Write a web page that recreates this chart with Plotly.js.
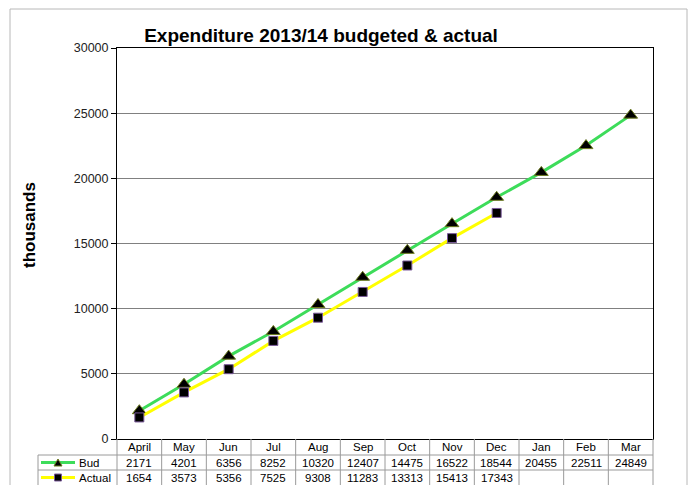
<!DOCTYPE html>
<html><head><meta charset="utf-8">
<script src="https://cdn.plot.ly/plotly-3.0.1.min.js"></script>
<style>body{margin:0;background:#fff}#c{width:693px;height:485px}</style>
</head><body><div id="c"></div>
<script>
const months = ["April","May","Jun","Jul","Aug","Sep","Oct","Nov","Dec","Jan","Feb","Mar"];
const budget = [2171,4201,6356,8252,10320,12407,14475,16522,18544,20455,22511,24849];
const actual = [1654,3573,5356,7525,9308,11283,13313,15413,17343];
const seriesNames = ["Bud","Actual"];
const yTicks = [0,5000,10000,15000,20000,25000,30000];

const W=693,H=485,L=117,R=653,T=48,B=439;
const pw=R-L, ph=B-T;
const px = x => (x-L)/pw;
const py = y => (B-y)/ph;

const traces = [
  {x: months, y: budget, name: seriesNames[0], mode:'lines+markers', cliponaxis:false,
   line:{color:'#3ddc5a', width:3},
   marker:{symbol:'triangle-up', size:12, color:'#000', line:{color:'#6b7a1e', width:1}}},
  {x: months.slice(0, actual.length), y: actual, name: seriesNames[1], mode:'lines+markers', cliponaxis:false,
   line:{color:'#ffff00', width:3},
   marker:{symbol:'square', size:9, color:'#000', line:{color:'#7a5a9a', width:1}}}
];

const shapes = [];
const annotations = [];
const gray = '#9a9a9a';
const sans = 'Liberation Sans, Arial, sans-serif';
// outer frame
shapes.push({type:'rect', xref:'paper', yref:'paper', x0:px(10), x1:px(687), y0:py(495), y1:py(9), line:{color:'#b8b8b8', width:1}});
const colW = pw / months.length;
// horizontal table lines
[455,470].forEach(yy=>shapes.push({type:'line', xref:'paper', yref:'paper', x0:px(38), x1:px(R), y0:py(yy), y1:py(yy), line:{color:gray,width:1}}));
// vertical table lines
for (let i=0;i<=months.length;i++){
  const xx = L + i*colW;
  shapes.push({type:'line', xref:'paper', yref:'paper', x0:px(xx), x1:px(xx), y0:py(439), y1:py(486), line:{color:gray,width:1}});
}
shapes.push({type:'line', xref:'paper', yref:'paper', x0:px(38), x1:px(38), y0:py(455), y1:py(486), line:{color:gray,width:1}});

const txtFont = {family:sans, size:11.5, color:'#000'};
months.forEach((m,i)=>{
  const cx = L + (i+0.5)*colW;
  annotations.push({xref:'paper', yref:'paper', x:px(cx), y:py(447), text:m, showarrow:false, font:txtFont, xanchor:'center', yanchor:'middle'});
  annotations.push({xref:'paper', yref:'paper', x:px(cx), y:py(462.5), text:String(budget[i]), showarrow:false, font:txtFont, xanchor:'center', yanchor:'middle'});
  if (i < actual.length)
    annotations.push({xref:'paper', yref:'paper', x:px(cx), y:py(477.5), text:String(actual[i]), showarrow:false, font:txtFont, xanchor:'center', yanchor:'middle'});
});
// legend glyphs in table
const legRows = [462.5, 477.5];
const legColors = ['#3ddc5a','#ffff00'];
legRows.forEach((yy,k)=>{
  shapes.push({type:'line', xref:'paper', yref:'paper', x0:px(41), x1:px(75), y0:py(yy), y1:py(yy), line:{color:legColors[k], width:3}});
  annotations.push({xref:'paper', yref:'paper', x:px(77), y:py(yy), text:seriesNames[k], showarrow:false, font:txtFont, xanchor:'left', yanchor:'middle'});
});
shapes.push({type:'path', xref:'paper', yref:'paper', path:`M ${px(54)} ${py(466)} L ${px(62)} ${py(466)} L ${px(58)} ${py(459)} Z`, fillcolor:'#000', line:{color:'#6b7a1e', width:1}});
shapes.push({type:'rect', xref:'paper', yref:'paper', x0:px(54.5), x1:px(61.5), y0:py(481), y1:py(474), fillcolor:'#000', line:{color:'#7a5a9a', width:1}});
// y axis title
annotations.push({xref:'paper', yref:'paper', x:px(29), y:py(225), text:'<b>thousands</b>', textangle:-90, showarrow:false,
  xanchor:'center', yanchor:'middle', font:{family:'Liberation Sans Narrow, Arial Narrow, Liberation Sans, sans-serif', size:17, color:'#000'}});

const layout = {
  width:W, height:H, margin:{l:L, r:W-R, t:T, b:H-B},
  paper_bgcolor:'#fff', plot_bgcolor:'#fff', showlegend:false,
  title:{text:'<b>Expenditure 2013/14 budgeted &amp; actual</b>', x:321/W, xanchor:'center', y:1-35/H, yanchor:'middle',
         font:{family:sans, size:19, color:'#000'}},
  xaxis:{type:'category', range:[-0.5, 11.5], showticklabels:false, ticks:'', showgrid:false, zeroline:false,
         showline:true, linecolor:'#000', linewidth:1, mirror:true, fixedrange:true},
  yaxis:{range:[0,30000], tickvals:yTicks, ticktext:yTicks.map(String), ticks:'outside', ticklen:5, tickcolor:'#000',
         showgrid:true, gridcolor:'#808080', gridwidth:1, zeroline:false,
         showline:true, linecolor:'#000', linewidth:1, mirror:true,
         tickfont:{family:sans, size:12.5, color:'#222'}},
  shapes, annotations
};
Plotly.newPlot('c', traces, layout, {staticPlot:true, displayModeBar:false});
</script></body></html>
